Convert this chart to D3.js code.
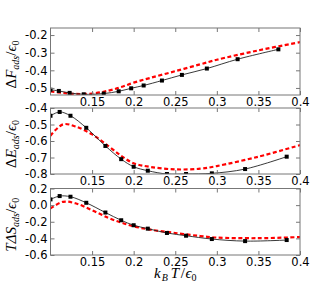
<!DOCTYPE html>
<html>
<head>
<meta charset="utf-8">
<script src="https://cdn.jsdelivr.net/npm/d3@7"></script>
<style>
  body { margin: 0; background: #fff; }
  svg { display: block; }
  .tick text { font-family: "DejaVu Sans", sans-serif; font-size: 11.5px; fill: #000; }
</style>
</head>
<body>
<svg width="333" height="289"></svg>
<script>
// temperatures of the simulation points
const tempF = [0.100, 0.110, 0.123, 0.140, 0.164, 0.182, 0.197, 0.212, 0.234, 0.258, 0.288, 0.325, 0.374];
const temp  = [0.100, 0.111, 0.124, 0.143, 0.166, 0.185, 0.200, 0.217, 0.240, 0.263, 0.294, 0.334, 0.384];

// simulation (black squares)
const simF = [-0.510, -0.517, -0.528, -0.536, -0.532, -0.519, -0.502, -0.486, -0.458, -0.426, -0.390, -0.337, -0.281];
const simE = [-0.447, -0.424, -0.447, -0.520, -0.630, -0.710, -0.756, -0.780, -0.800, -0.800, -0.796, -0.770, -0.695];
const simS = [0.069, 0.109, 0.101, 0.028, -0.089, -0.182, -0.242, -0.283, -0.335, -0.368, -0.408, -0.433, -0.420];

// theory (red dashed)
const modelT = [0.10, 0.115, 0.13, 0.15, 0.17, 0.185, 0.20, 0.22, 0.25, 0.28, 0.30, 0.35, 0.40];
const modelF = [-0.520, -0.528, -0.534, -0.532, -0.515, -0.495, -0.470, -0.443, -0.405, -0.366, -0.340, -0.287, -0.240];
const modelE = [-0.568, -0.499, -0.512, -0.560, -0.632, -0.690, -0.735, -0.757, -0.772, -0.768, -0.752, -0.695, -0.625];
const modelS = [-0.040, 0.040, 0.022, -0.062, -0.155, -0.210, -0.255, -0.295, -0.335, -0.372, -0.390, -0.398, -0.384];

const xTicks = [0.15, 0.2, 0.25, 0.3, 0.35, 0.4];
const yTicksF = [-0.5, -0.4, -0.3, -0.2];
const yTicksE = [-0.8, -0.7, -0.6, -0.5, -0.4];
const yTicksS = [-0.6, -0.4, -0.2, 0.0, 0.2];

const svg = d3.select("svg");
const left = 50.5, right = 300;

const x = d3.scaleLinear().domain([0.1, 0.4]).range([left, right]);
const yFmt = d => d3.format(".1f")(d).replace("\u2212", "-");

const panels = [
  { top: 28, bottom: 95, dom: [-0.54, -0.16], ticks: yTicksF,
    tx: tempF, sim: simF, model: modelF, label: ["Δ", "F", "ads"] },
  { top: 108, bottom: 174, dom: [-0.8, -0.4], ticks: yTicksE,
    tx: temp, sim: simE, model: modelE, label: ["Δ", "E", "ads"] },
  { top: 188.5, bottom: 255, dom: [-0.6, 0.2], ticks: yTicksS,
    tx: temp, sim: simS, model: modelS, label: ["TΔ", "S", "ads"] }
];

const frameColor = "#777";

panels.forEach((p, i) => {
  const y = d3.scaleLinear().domain(p.dom).range([p.bottom, p.top]);
  const g = svg.append("g");

  // clip
  g.append("clipPath").attr("id", "clip" + i)
    .append("rect")
    .attr("x", left).attr("y", p.top)
    .attr("width", right - left).attr("height", p.bottom - p.top);

  const plot = g.append("g").attr("clip-path", `url(#clip${i})`);

  // theory
  const modelPts = modelT.map((t, j) => [t, p.model[j]]);
  plot.append("path")
    .datum(modelPts)
    .attr("fill", "none")
    .attr("stroke", "#ff0000")
    .attr("stroke-width", 2.2)
    .attr("stroke-dasharray", "4,2.5")
    .attr("d", d3.line().x(d => x(d[0])).y(d => y(d[1])).curve(d3.curveCatmullRom));

  // simulation
  const simPts = p.tx.map((t, j) => [t, p.sim[j]]);
  plot.append("path")
    .datum(simPts)
    .attr("fill", "none")
    .attr("stroke", "#222")
    .attr("stroke-width", 0.9)
    .attr("d", d3.line().x(d => x(d[0])).y(d => y(d[1])).curve(d3.curveCatmullRom));

  plot.selectAll("rect.pt")
    .data(simPts)
    .enter()
    .append("rect")
    .attr("class", "pt")
    .attr("x", d => x(d[0]) - 2)
    .attr("y", d => y(d[1]) - 2)
    .attr("width", 4)
    .attr("height", 4)
    .attr("fill", "#000");

  // axes, ticks pointing inward
  g.append("g")
    .attr("transform", `translate(0, ${p.bottom})`)
    .call(d3.axisBottom(x).tickValues(xTicks).tickSize(-4).tickPadding(3).tickFormat(d3.format("")))
    .call(a => a.select(".domain").remove());
  g.append("g")
    .attr("transform", `translate(0, ${p.top})`)
    .call(d3.axisTop(x).tickValues(xTicks).tickSize(-4).tickFormat(""))
    .call(a => a.select(".domain").remove());
  g.append("g")
    .attr("transform", `translate(${left}, 0)`)
    .call(d3.axisLeft(y).tickValues(p.ticks).tickSize(-4).tickPadding(3).tickFormat(yFmt))
    .call(a => a.select(".domain").remove());
  g.append("g")
    .attr("transform", `translate(${right}, 0)`)
    .call(d3.axisRight(y).tickValues(p.ticks).tickSize(-4).tickFormat(""))
    .call(a => a.select(".domain").remove());
  g.selectAll(".tick line").attr("stroke", frameColor);

  // frame
  g.append("rect")
    .attr("x", left).attr("y", p.top)
    .attr("width", right - left).attr("height", p.bottom - p.top)
    .attr("fill", "none").attr("stroke", frameColor).attr("stroke-width", 1);

  // y label
  const cy = (p.top + p.bottom) / 2 + 3;
  const lab = svg.append("text")
    .attr("transform", `translate(16, ${cy}) rotate(-90)`)
    .attr("text-anchor", "middle")
    .style("font-family", "'Liberation Serif', serif")
    .style("font-size", "15px");
  lab.append("tspan").text(p.label[0]).style("font-style", i === 2 ? "italic" : "normal");
  lab.append("tspan").text(p.label[1]).style("font-style", "italic");
  lab.append("tspan").text(p.label[2]).style("font-style", "italic").style("font-size", "10px").attr("dy", 3);
  lab.append("tspan").text("/").attr("dy", -3);
  lab.append("tspan").text("ϵ").style("font-style", "italic");
  lab.append("tspan").text("0").style("font-size", "10px").attr("dy", 3);
});

// x label
const xl = svg.append("text")
  .attr("x", (left + right) / 2)
  .attr("y", 278)
  .attr("text-anchor", "middle")
  .style("font-family", "'Liberation Serif', serif")
  .style("font-size", "15px");
xl.append("tspan").text("k").style("font-style", "italic");
xl.append("tspan").text("B").style("font-style", "italic").style("font-size", "10px").attr("dx", 1).attr("dy", 3);
xl.append("tspan").text("T").style("font-style", "italic").attr("dx", 3).attr("dy", -3);
xl.append("tspan").text("/").attr("dx", 1.5);
xl.append("tspan").text("ϵ").style("font-style", "italic").attr("dx", 0.5);
xl.append("tspan").text("0").style("font-size", "10px").attr("dy", 3);
</script>
</body>
</html>
